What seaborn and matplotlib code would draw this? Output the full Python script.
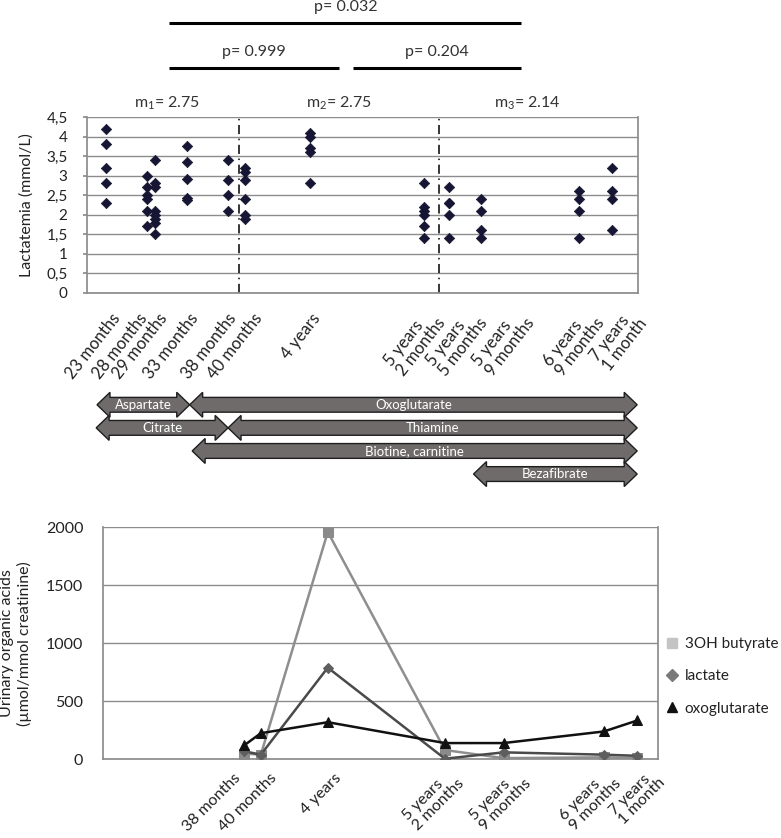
import numpy as np
import pandas as pd
import matplotlib
matplotlib.use('Agg')
import matplotlib.pyplot as plt
import seaborn as sns
from matplotlib.lines import Line2D

sns.set_theme(style='white')
plt.rcParams['font.family'] = ['Lato', 'DejaVu Sans']
plt.rcParams['mathtext.fontset'] = 'custom'
plt.rcParams['mathtext.rm'] = 'Lato'

# --- lactatemia per visit (age in months) ---
ages_top = [23, 28, 29, 33, 38, 40, 48, 62, 65, 69, 81, 85]
labels_top = ['23 months', '28 months', '29 months', '33 months', '38 months',
              '40 months', '4 years', '5 years\n2 months', '5 years\n5 months',
              '5 years\n9 months', '6 years\n9 months', '7 years\n1 month']
lactatemia = [
    [4.2, 3.8, 3.2, 2.8, 2.3],
    [3.0, 2.7, 2.5, 2.4, 2.1, 1.7],
    [3.4, 2.8, 2.7, 2.1, 2.0, 1.9, 1.8, 1.5],
    [3.75, 3.35, 2.92, 2.44, 2.38],
    [3.4, 2.9, 2.5, 2.1],
    [3.2, 3.1, 2.9, 2.4, 2.0, 1.9],
    [4.1, 4.0, 3.7, 3.6, 2.8],
    [2.8, 2.2, 2.1, 2.0, 1.7, 1.4],
    [2.7, 2.3, 2.3, 2.0, 1.4],
    [2.4, 2.1, 1.6, 1.4],
    [2.6, 2.4, 2.1, 1.4],
    [3.2, 2.6, 2.4, 1.6],
]
# where the axis labels sit (they drift a little from the data columns)
tick_pos_top = [24.4, 27.7, 30.2, 34.0, 38.6, 41.8, 48.9, 63.5, 68.6, 74.3, 82.9, 88.2]
group_breaks = [39.3, 63.8]
group_means = ['m$_{\\mathrm{1}}$= 2.75', 'm$_{\\mathrm{2}}$= 2.75', 'm$_{\\mathrm{3}}$= 2.14']
group_mean_x = [30.5, 51.6, 74.6]

# --- treatments (start / end, months) ---
treat_names = ['Aspartate', 'Oxoglutarate', 'Citrate', 'Thiamine',
               'Biotine, carnitine', 'Bezafibrate']
treat_start = [21.9, 33.0, 21.8, 37.6, 33.3, 67.0]
treat_end = [33.0, 86.6, 37.6, 86.6, 86.6, 86.6]
treat_row = [0, 0, 1, 1, 2, 3]

# --- urinary organic acids ---
ages_bot = [38, 40, 48, 62, 69, 81, 85]
labels_bot = ['38 months', '40 months', '4 years', '5 years\n2 months',
              '5 years\n9 months', '6 years\n9 months', '7 years\n1 month']
tick_pos_bot = [37.3, 41.6, 49.4, 63.4, 71.4, 82.2, 87.5]
butyrate = [50, 40, 1960, 80, 10, 17, 10]
lactate = [70, 40, 790, 5, 60, 40, 30]
oxoglutarate = [120, 225, 320, 140, 140, 240, 335]

grid_c = '#8c8c8c'
txt_c = '#222222'
fig = plt.figure(figsize=(7.81, 8.38), dpi=100)

# ---------- top scatter ----------
ax1 = fig.add_axes([0.1114, 0.6504, 0.7055, 0.2100])
rows = [(a, v) for a, vals in zip(ages_top, lactatemia) for v in vals]
df1 = pd.DataFrame(rows, columns=['age', 'lact'])
sns.scatterplot(data=df1, x='age', y='lact', marker='D', s=28, color='#161634',
                edgecolor='#161634', linewidth=0.5, ax=ax1, zorder=3)
ax1.set_xlim(20.7, 86.7)
ax1.set_ylim(0, 4.5)
yt = np.arange(0, 4.51, 0.5)
ax1.set_yticks(yt)
ax1.set_yticklabels([('%g' % t).replace('.', ',') for t in yt], fontsize=11, color=txt_c)
ax1.yaxis.grid(True, color=grid_c, lw=1)
ax1.set_axisbelow(True)
ax1.set_xticks(tick_pos_top)
ax1.set_xticklabels(labels_top, rotation=52, ha='right', va='center',
                    rotation_mode='anchor', fontsize=12, color=txt_c,
                    linespacing=1.0, multialignment='left')
ax1.tick_params(axis='x', length=0, pad=16)
ax1.tick_params(axis='y', length=3, color=grid_c, left=True, pad=11)
ax1.set_xlabel('')
ax1.set_ylabel('Lactatemia (mmol/L)', fontsize=11.5, color=txt_c, labelpad=9)
for sp in ax1.spines.values():
    sp.set_color(grid_c)
ax1.spines['top'].set_visible(False)
for b in group_breaks:
    ax1.axvline(b, color='black', lw=1.1, ls=(0, (6, 3, 1, 3)), zorder=2)
for x, t in zip(group_mean_x, group_means):
    ax1.text(x, 4.86, t, ha='center', va='center', fontsize=11.5,
             color='#333333', clip_on=False)

# significance bars
sig = [(30.8, 73.9, 6.9, 'p= 0.032'), (30.8, 51.6, 5.75, 'p= 0.999'),
       (53.3, 73.9, 5.75, 'p= 0.204')]
for x0, x1, yb, lab in sig:
    ax1.plot([x0, x1], [yb, yb], color='black', lw=2.2, clip_on=False,
             solid_capstyle='butt')
    ax1.text((x0 + x1) / 2, yb + 0.4, lab, ha='center', va='center',
             fontsize=11.5, color='#333333', clip_on=False)

# ---------- treatment arrows ----------
ax2 = fig.add_axes([0.1114, 0.4153, 0.7055, 0.1193])
ax2.set_xlim(20.7, 86.7)
ax2.set_ylim(3.69, -0.64)
ax2.axis('off')
hl, hh, bh = 1.55, 0.54, 0.32
for name, x0, x1, r in zip(treat_names, treat_start, treat_end, treat_row):
    px = [x0, x0 + hl, x0 + hl, x1 - hl, x1 - hl, x1, x1 - hl, x1 - hl, x0 + hl, x0 + hl]
    py = [r, r - hh, r - bh, r - bh, r - hh, r, r + hh, r + bh, r + bh, r + hh]
    ax2.fill(px, py, facecolor='#6f6b6b', edgecolor='#1e1e1e', lw=1.0)
    ax2.text((x0 + x1) / 2, r, name, ha='center', va='center', color='white',
             fontsize=9.5)

# ---------- bottom lines ----------
ax3 = fig.add_axes([0.1315, 0.0939, 0.7114, 0.2769])
df3 = pd.DataFrame({'age': ages_bot * 3,
                    'value': butyrate + lactate + oxoglutarate,
                    'acid': ['3OH butyrate'] * 7 + ['lactate'] * 7 + ['oxoglutarate'] * 7})
line_cols = {'3OH butyrate': '#8e8e8e', 'lactate': '#4a4a4a', 'oxoglutarate': '#111111'}
mark_cols = {'3OH butyrate': '#8a8a8a', 'lactate': '#5e5e5e', 'oxoglutarate': '#111111'}
marks = {'3OH butyrate': 's', 'lactate': 'D', 'oxoglutarate': '^'}
for acid, sub in df3.groupby('acid'):
    sns.lineplot(data=sub, x='age', y='value', color=line_cols[acid], lw=1.8,
                 marker=marks[acid], markersize=6.5 if acid != 'lactate' else 5.5,
                 markerfacecolor=mark_cols[acid], markeredgecolor=mark_cols[acid],
                 ax=ax3, zorder=3)
ax3.set_xlim(21.1, 86.6)
ax3.set_ylim(0, 2000)
ax3.set_yticks([0, 500, 1000, 1500, 2000])
ax3.set_yticklabels(['0', '500', '1000', '1500', '2000'], fontsize=11.5, color=txt_c)
ax3.yaxis.grid(True, color=grid_c, lw=1)
ax3.set_axisbelow(True)
ax3.set_xticks(tick_pos_bot)
ax3.set_xticklabels(labels_bot, rotation=45, ha='right', va='center',
                    rotation_mode='anchor', fontsize=11.5, color=txt_c,
                    linespacing=1.0, multialignment='left')
ax3.tick_params(axis='x', length=0, pad=12)
ax3.tick_params(axis='y', length=0, pad=14)
ax3.set_xlabel('')
ax3.set_ylabel('Urinary organic acids\n(\u00b5mol/mmol creatinine)', fontsize=11.5,
               color=txt_c, labelpad=10)
for sp in ax3.spines.values():
    sp.set_color(grid_c)
ax3.spines['top'].set_visible(False)

handles = [Line2D([], [], ls='none', marker='s', ms=7, color='#c4c4c4'),
           Line2D([], [], ls='none', marker='D', ms=6, color='#7a7a7a'),
           Line2D([], [], ls='none', marker='^', ms=7, color='#111111')]
fig.legend(handles, ['3OH butyrate', 'lactate', 'oxoglutarate'],
           loc='center left', bbox_to_anchor=(0.853, 0.193), frameon=False,
           fontsize=11, labelspacing=1.2, handletextpad=0.4, handlelength=0.8,
           borderaxespad=0, borderpad=0, labelcolor=txt_c)

fig.savefig('out.png', dpi=100)
